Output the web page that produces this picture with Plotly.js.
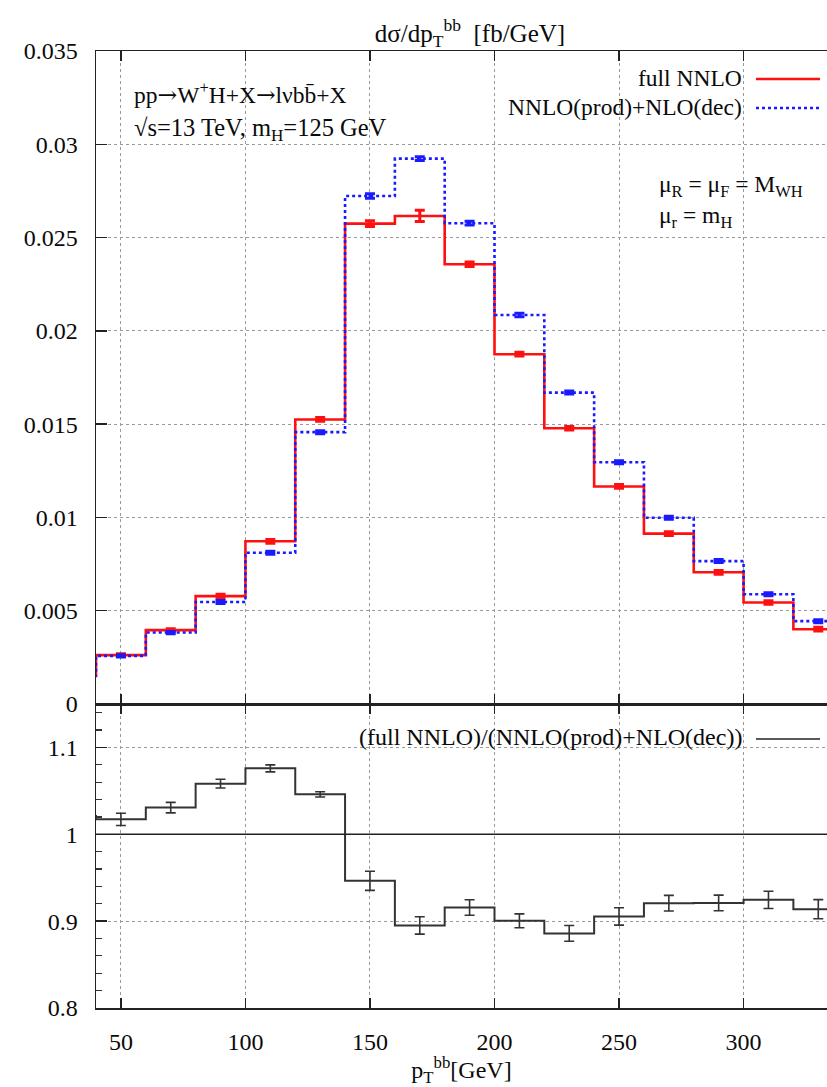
<!DOCTYPE html>
<html>
<head>
<meta charset="utf-8">
<script src="https://cdn.plot.ly/plotly-3.0.1.min.js"></script>
<style>html,body{margin:0;padding:0;background:#fff;}#chart{width:827px;height:1087px;}</style>
</head>
<body>
<div id="chart"></div>
<script>
// ---- data ----
const binLow = [20, 40, 60, 80, 100, 120, 140, 160, 180, 200, 220, 240, 260, 280, 300, 320];
const binWidth = 20;
const fullNNLO = [0.0016, 0.00262, 0.00396, 0.00578, 0.00872, 0.01525, 0.02575, 0.02616, 0.02357, 0.01875, 0.01478, 0.01166, 0.00913, 0.00706, 0.00544, 0.00401];
const fullNNLOErr = [0.0001, 0.00008, 0.00008, 0.0001, 0.0001, 0.0001, 0.00015, 0.0003, 0.00012, 0.0001, 0.0001, 0.0001, 0.0001, 0.0001, 0.0001, 0.0001];
const nnloProdNloDec = [0.0015, 0.00258, 0.00383, 0.00547, 0.00811, 0.01457, 0.02723, 0.02923, 0.02577, 0.02085, 0.01669, 0.01296, 0.00998, 0.00766, 0.00588, 0.00444];
const nnloProdNloDecErr = [0.0001, 0.00006, 0.00006, 0.00008, 0.00008, 0.00008, 0.00012, 0.0001, 0.0001, 0.0001, 0.00008, 0.00008, 0.00008, 0.00008, 0.00008, 0.00008];
const ratio = [1.021, 1.0172, 1.0307, 1.0583, 1.0759, 1.046, 0.9464, 0.8950, 0.9157, 0.9004, 0.8859, 0.9054, 0.9207, 0.921, 0.9245, 0.9138];
const ratioErr = [0.006, 0.007, 0.006, 0.005, 0.004, 0.003, 0.011, 0.010, 0.009, 0.008, 0.009, 0.010, 0.009, 0.009, 0.010, 0.011];
const xTicks = [50, 100, 150, 200, 250, 300];
const yTicksTop = [0, 0.005, 0.01, 0.015, 0.02, 0.025, 0.03, 0.035];
const yTicksBottom = [0.8, 0.9, 1, 1.1];

// ---- helpers ----
const stepX = binLow.concat([binLow[binLow.length - 1] + binWidth]);
const stepY = v => v.concat([v[v.length - 1]]);
const centers = binLow.map(b => b + binWidth / 2);

const W = 827, H = 1087, L = 96, T = 51, B = 1008;
const px = x => (x - L) / (W - L);
const py = y => (B - y) / (B - T);
const split = py(704);

const FONT = 'Liberation Serif';
const TXT = '#0a0a0a';
const FS = 23.5;
const TFS = 24;
const ARROW = '<span style="font-family:DejaVu Serif">→</span>';
const tf = () => ({family: FONT, size: TFS, color: TXT});

const traces = [
  {x: stepX, y: stepY(fullNNLO), xaxis: 'x', yaxis: 'y', mode: 'lines', line: {shape: 'hv', color: '#ff1010', width: 2.6}, name: 'full NNLO', showlegend: false},
  {x: stepX, y: stepY(nnloProdNloDec), xaxis: 'x', yaxis: 'y', mode: 'lines', line: {shape: 'hv', color: '#1a1aff', width: 2.6, dash: 'dot'}, name: 'NNLO(prod)+NLO(dec)', showlegend: false},
  {x: centers, y: fullNNLO, xaxis: 'x', yaxis: 'y', mode: 'markers', marker: {size: 1, color: '#ff1010', opacity: 0}, error_y: {type: 'data', array: fullNNLOErr, color: '#ff1010', thickness: 3, width: 5}, showlegend: false, hoverinfo: 'skip'},
  {x: centers, y: nnloProdNloDec, xaxis: 'x', yaxis: 'y', mode: 'markers', marker: {size: 1, color: '#1a1aff', opacity: 0}, error_y: {type: 'data', array: nnloProdNloDecErr, color: '#1a1aff', thickness: 3, width: 5}, showlegend: false, hoverinfo: 'skip'},
  {x: stepX, y: stepY(ratio), xaxis: 'x2', yaxis: 'y2', mode: 'lines', line: {shape: 'hv', color: '#333333', width: 2}, name: 'ratio', showlegend: false},
  {x: centers, y: ratio, xaxis: 'x2', yaxis: 'y2', mode: 'markers', marker: {size: 1, color: '#333', opacity: 0}, error_y: {type: 'data', array: ratioErr, color: '#333333', thickness: 1.6, width: 5}, showlegend: false, hoverinfo: 'skip'}
];

const layout = {
  width: W, height: H,
  margin: {l: L, r: 0, t: T, b: H - B, pad: 0},
  paper_bgcolor: '#fff', plot_bgcolor: '#fff',
  font: {family: FONT, color: TXT, size: TFS},
  showlegend: false,
  title: {text: 'dσ/dp<sub>T</sub><sup>bb</sup>  [fb/GeV]', font: {family: FONT, size: 25, color: TXT}, x: 470 / W, xref: 'container', xanchor: 'center', y: 1 - 33 / H, yref: 'container', yanchor: 'middle'},
  xaxis: {
    domain: [0, 1], anchor: 'y', range: [40, 333.5], tickmode: 'array', tickvals: xTicks, showticklabels: false,
    showgrid: true, gridcolor: '#9a9a9a', gridwidth: 1, griddash: 'dot',
    ticks: 'inside', ticklen: 10, tickwidth: 1.3, tickcolor: '#222',
    showline: true, linecolor: '#222', linewidth: 1.5, mirror: 'ticks', zeroline: false
  },
  yaxis: {
    domain: [split, 1], anchor: 'x', range: [0, 0.035], tickmode: 'array', tickvals: yTicksTop,
    showgrid: true, gridcolor: '#9a9a9a', gridwidth: 1, griddash: 'dot',
    ticks: 'inside', ticklen: 11, tickwidth: 1.3, tickcolor: '#222', showline: true, linecolor: '#222', linewidth: 1.5,
    mirror: false, zeroline: false, tickfont: tf(), ticklabelstandoff: 12
  },
  xaxis2: {
    domain: [0, 1], anchor: 'y2', range: [40, 333.5], tickmode: 'array', tickvals: xTicks, showticklabels: true,
    showgrid: true, gridcolor: '#9a9a9a', gridwidth: 1, griddash: 'dot',
    ticks: 'inside', ticklen: 10, tickwidth: 1.3, tickcolor: '#222',
    showline: true, linecolor: '#222', linewidth: 1.5, mirror: 'ticks', zeroline: false,
    tickfont: tf(), ticklabelstandoff: 12,
    title: {text: 'p<sub>T</sub><sup>bb</sup>[GeV]', font: {family: FONT, size: 24, color: TXT}, standoff: 4}
  },
  yaxis2: {
    domain: [0, split], anchor: 'x2', range: [0.8, 1.15], tickmode: 'array', tickvals: yTicksBottom,
    showgrid: true, gridcolor: '#9a9a9a', gridwidth: 1, griddash: 'dot',
    ticks: 'inside', ticklen: 11, tickwidth: 1.3, tickcolor: '#222', showline: true, linecolor: '#222', linewidth: 1.5,
    mirror: false, zeroline: false, tickfont: tf(), ticklabelstandoff: 12,
    minor: {dtick: 0.02, tick0: 0.8, ticks: 'inside', ticklen: 6, tickwidth: 1.2, tickcolor: '#333', showgrid: false}
  },
  shapes: [
    // solid reference line at ratio = 1
    {type: 'line', xref: 'x2 domain', yref: 'y2', x0: 0, x1: 1, y0: 1, y1: 1, line: {color: '#222', width: 1.5}},
    // legend samples
    {type: 'line', xref: 'paper', yref: 'paper', x0: px(756), x1: px(820), y0: py(79), y1: py(79), line: {color: '#ff1010', width: 2.6}},
    {type: 'line', xref: 'paper', yref: 'paper', x0: px(756), x1: px(820), y0: py(108), y1: py(108), line: {color: '#1a1aff', width: 2.6, dash: 'dot'}},
    {type: 'line', xref: 'paper', yref: 'paper', x0: px(756), x1: px(820), y0: py(739), y1: py(739), line: {color: '#222', width: 1.6}}
  ],
  annotations: [
    {text: 'pp' + ARROW + 'W<sup>+</sup>H+X' + ARROW + 'lνbb\u0304+X', xref: 'paper', yref: 'paper', x: px(132), y: py(94), xanchor: 'left', yanchor: 'middle', showarrow: false, font: {family: FONT, size: FS, color: TXT}},
    {text: '√s=13 TeV, m<sub>H</sub>=125 GeV', xref: 'paper', yref: 'paper', x: px(132), y: py(130), xanchor: 'left', yanchor: 'middle', showarrow: false, font: {family: FONT, size: 24.5, color: TXT}},
    {text: 'full NNLO', xref: 'paper', yref: 'paper', x: px(744), y: py(78), xanchor: 'right', yanchor: 'middle', showarrow: false, font: {family: FONT, size: FS, color: TXT}},
    {text: 'NNLO(prod)+NLO(dec)', xref: 'paper', yref: 'paper', x: px(744), y: py(107), xanchor: 'right', yanchor: 'middle', showarrow: false, font: {family: FONT, size: FS, color: TXT}},
    {text: 'μ<sub>R</sub> = μ<sub>F</sub> = M<sub>WH</sub>', xref: 'paper', yref: 'paper', x: px(657), y: py(186), xanchor: 'left', yanchor: 'middle', showarrow: false, font: {family: FONT, size: FS, color: TXT}},
    {text: 'μ<sub>r</sub> = m<sub>H</sub>', xref: 'paper', yref: 'paper', x: px(657), y: py(217), xanchor: 'left', yanchor: 'middle', showarrow: false, font: {family: FONT, size: FS, color: TXT}},
    {text: '(full NNLO)/(NNLO(prod)+NLO(dec))', xref: 'paper', yref: 'paper', x: px(744), y: py(737), xanchor: 'right', yanchor: 'middle', showarrow: false, font: {family: FONT, size: 24, color: TXT}}
  ]
};

Plotly.newPlot('chart', traces, layout, {staticPlot: true, displayModeBar: false});
</script>
</body>
</html>
